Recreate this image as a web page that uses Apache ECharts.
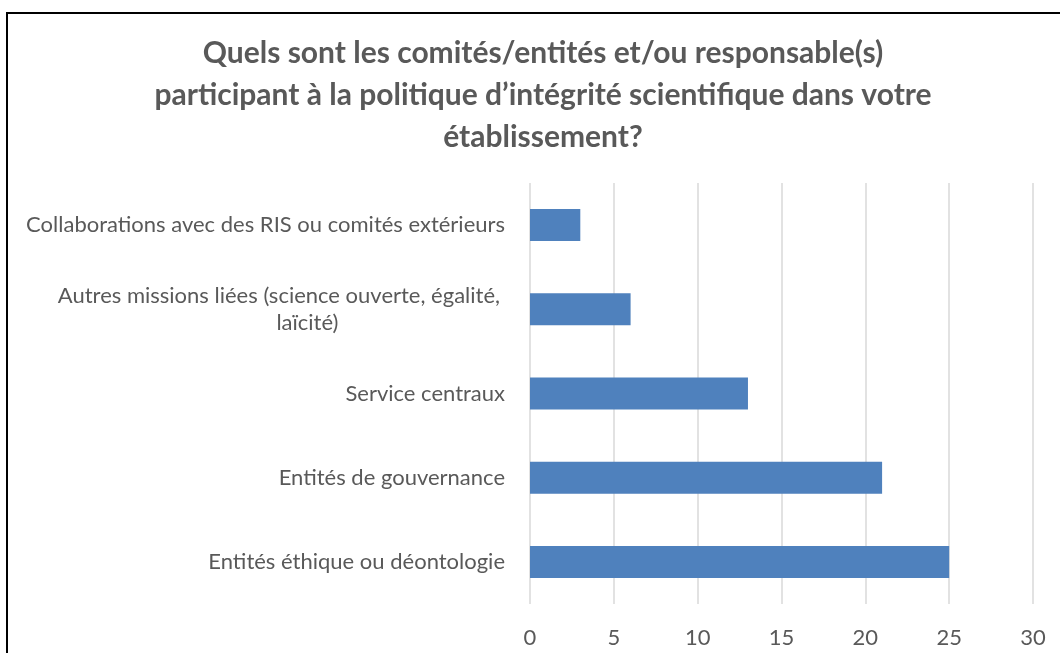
<!DOCTYPE html>
<html>
<head>
<meta charset="utf-8">
<script src="https://cdn.jsdelivr.net/npm/echarts@6/dist/echarts.min.js"></script>
<style>
html,body{margin:0;padding:0;background:#fff;}
#chart{width:1060px;height:653px;}
</style>
</head>
<body>
<div id="chart"></div>
<script>
const titleText = "Quels sont les comités/entités et/ou responsable(s)\nparticipant à la politique d’intégrité scientifique dans votre\nétablissement?";
const categories = [
  "Collaborations avec des RIS ou comités extérieurs",
  "Autres missions liées (science ouverte, égalité, laïcité)",
  "Service centraux",
  "Entités de gouvernance",
  "Entités éthique ou déontologie"
];
const values = [3, 6, 13, 21, 25];
const xTicks = [0, 5, 10, 15, 20, 25, 30];

const FONT = "Lato";
const chart = echarts.init(document.getElementById('chart'), null, {renderer: 'canvas'});
chart.setOption({
  animation: false,
  backgroundColor: '#ffffff',
  title: {
    text: titleText,
    left: 538,
    top: 27,
    textAlign: 'center',
    textStyle: {
      fontFamily: FONT,
      fontWeight: 'bold',
      fontSize: 30,
      lineHeight: 42,
      color: '#595959'
    }
  },
  graphic: [{
    type: 'rect',
    shape: {x: 7, y: 13, width: 1100, height: 700},
    style: {fill: 'none', stroke: '#000000', lineWidth: 2},
    silent: true
  }],
  grid: {left: 530, right: 27, top: 183, bottom: 49, containLabel: false},
  xAxis: {
    type: 'value',
    min: xTicks[0],
    max: xTicks[xTicks.length - 1],
    interval: 5,
    axisLine: {show: false},
    axisTick: {show: false},
    splitLine: {show: true, lineStyle: {color: '#D9D9D9', width: 1.5}},
    axisLabel: {
      margin: 23,
      fontFamily: FONT,
      fontSize: 22,
      color: '#595959'
    }
  },
  yAxis: {
    type: 'category',
    inverse: true,
    data: categories,
    axisLine: {show: false},
    axisTick: {show: false},
    splitLine: {show: false},
    axisLabel: {
      margin: 25,
      fontFamily: FONT,
      fontSize: 22,
      color: '#595959',
      formatter: function (v) {
        if (v.indexOf('Autres missions') === 0) {
          return '{a|Autres missions liées (science ouverte, égalité,}\n{b|laïcité)}';
        }
        return v;
      },
      rich: {
        a: {fontFamily: FONT, fontSize: 22, color: '#595959', lineHeight: 27, align: 'center', padding: [0, 5, 0, 0]},
        b: {fontFamily: FONT, fontSize: 22, color: '#595959', lineHeight: 27, align: 'center', padding: [0, 0, 0, 52]}
      }
    }
  },
  series: [{
    type: 'bar',
    data: values,
    barWidth: 32,
    itemStyle: {color: '#4F81BD'}
  }]
});
</script>
</body>
</html>
